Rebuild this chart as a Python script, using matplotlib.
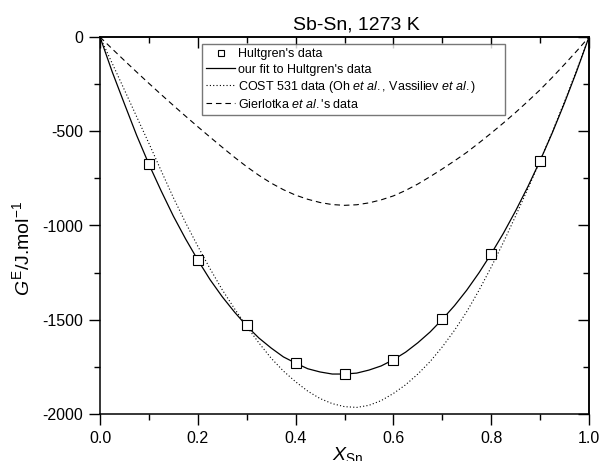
import matplotlib
matplotlib.use('Agg')
import matplotlib.pyplot as plt
from matplotlib.ticker import MultipleLocator

plt.rcParams['font.family'] = 'Liberation Sans'
plt.rcParams['mathtext.fontset'] = 'custom'
plt.rcParams['mathtext.rm'] = 'Liberation Sans'
plt.rcParams['mathtext.it'] = 'Liberation Sans:italic'
plt.rcParams['axes.unicode_minus'] = False

# Hultgren's data points
x_hult = [0.1, 0.2, 0.3, 0.4, 0.5, 0.6, 0.7, 0.8, 0.9]
g_hult = [-675, -1183, -1530, -1730, -1788, -1712, -1496, -1150, -656]

# curves, 0.025 steps
x_curve = [0.0, 0.025, 0.05, 0.075, 0.1, 0.125, 0.15, 0.175, 0.2, 0.225,
           0.25, 0.275, 0.3, 0.325, 0.35, 0.375, 0.4, 0.425, 0.45, 0.475,
           0.5, 0.525, 0.55, 0.575, 0.6, 0.625, 0.65, 0.675, 0.7, 0.725,
           0.75, 0.775, 0.8, 0.825, 0.85, 0.875, 0.9, 0.925, 0.95, 0.975, 1.0]
g_fit = [0, -185, -355, -522, -675, -816, -950, -1071, -1183, -1287,
         -1378, -1459, -1533, -1597, -1650, -1697, -1730, -1760, -1777, -1788,
         -1788, -1783, -1767, -1745, -1712, -1672, -1622, -1565, -1498, -1425,
         -1343, -1251, -1150, -1041, -922, -794, -656, -508, -349, -180, 0]
g_cost = [0, -140, -281, -423, -564, -709, -852, -985, -1110, -1229,
          -1341, -1441, -1535, -1623, -1704, -1772, -1829, -1879, -1918, -1945,
          -1961, -1965, -1954, -1929, -1891, -1845, -1788, -1722, -1644, -1556,
          -1457, -1344, -1221, -1089, -949, -805, -657, -503, -342, -174, 0]
g_gier = [0, -63, -125, -186, -246, -305, -363, -420, -476, -531,
          -585, -638, -688, -734, -775, -810, -839, -861, -878, -889,
          -893, -890, -880, -864, -843, -814, -780, -741, -700, -657,
          -612, -562, -510, -456, -400, -341, -280, -214, -145, -74, 0]

fig = plt.figure(figsize=(6.01, 4.61), dpi=100)
ax = fig.add_axes([100/601, 1 - 414/461, 489/601, 377/461])

ax.plot(x_curve, g_fit, color='black', lw=0.9, label="our fit to Hultgren's data", zorder=2)
ax.plot(x_curve, g_cost, color='black', lw=0.8, linestyle=(0, (1, 2)),
        label=r'COST 531 data (Oh $\mathit{et\ al.}$, Vassiliev $\mathit{et\ al.}$)', zorder=2)
ax.plot(x_curve, g_gier, color='black', lw=0.8, linestyle=(0, (5, 3.5)),
        label=r"Gierlotka $\mathit{et\ al.}$'s data", zorder=2)
ax.plot(x_hult, g_hult, linestyle='none', marker='s', markersize=6.5,
        markerfacecolor='white', markeredgecolor='black', markeredgewidth=0.8,
        label="Hultgren's data", zorder=3)

ax.set_xlim(0, 1)
ax.set_ylim(-2000, 0)
ax.xaxis.set_major_locator(MultipleLocator(0.2))
ax.xaxis.set_minor_locator(MultipleLocator(0.1))
ax.yaxis.set_major_locator(MultipleLocator(500))
ax.yaxis.set_minor_locator(MultipleLocator(250))
ax.xaxis.set_major_formatter(plt.FormatStrFormatter('%.1f'))
ax.tick_params(which='major', direction='out', length=8, width=1, labelsize=11.5, pad=4)
ax.tick_params(which='minor', direction='out', length=4, width=1)
for s in ax.spines.values():
    s.set_linewidth(1.1)

# top / right ticks point inwards
top = ax.secondary_xaxis('top')
top.xaxis.set_major_locator(MultipleLocator(0.2))
top.xaxis.set_minor_locator(MultipleLocator(0.1))
top.tick_params(which='major', direction='in', length=8, width=1, labeltop=False)
top.tick_params(which='minor', direction='in', length=4, width=1)
right = ax.secondary_yaxis('right')
right.yaxis.set_major_locator(MultipleLocator(500))
right.yaxis.set_minor_locator(MultipleLocator(250))
right.tick_params(which='major', direction='in', length=8, width=1, labelright=False)
right.tick_params(which='minor', direction='in', length=4, width=1)
top.spines['top'].set_linewidth(1.1)
right.spines['right'].set_linewidth(1.1)

ax.set_xlabel(r'$X_{\mathrm{Sn}}$', fontsize=14)
ax.xaxis.set_label_coords(0.507, -0.083)
ax.set_ylabel(r'$G^{\mathrm{E}}$/J.mol$^{-1}$', fontsize=14, va='center')
ax.yaxis.set_label_coords(-0.16, 0.44)

fig.text(356/601, 1 - 30/461, 'Sb-Sn, 1273 K', fontsize=14, ha='center', va='baseline')

handles, labels = ax.get_legend_handles_labels()
order = [3, 0, 1, 2]
leg = ax.legend([handles[i] for i in order], [labels[i] for i in order],
                loc='upper left', bbox_to_anchor=(102/489, 299/377, 303/489, 71/377),
                mode='expand', fontsize=9, numpoints=1, markerscale=0.7,
                frameon=True, fancybox=False,
                borderpad=0.35, handlelength=2.3, handletextpad=0.2, labelspacing=0.25,
                borderaxespad=0)
leg.get_frame().set_edgecolor('#555555')
leg.get_frame().set_linewidth(1.0)

fig.savefig('out.png', dpi=100)
